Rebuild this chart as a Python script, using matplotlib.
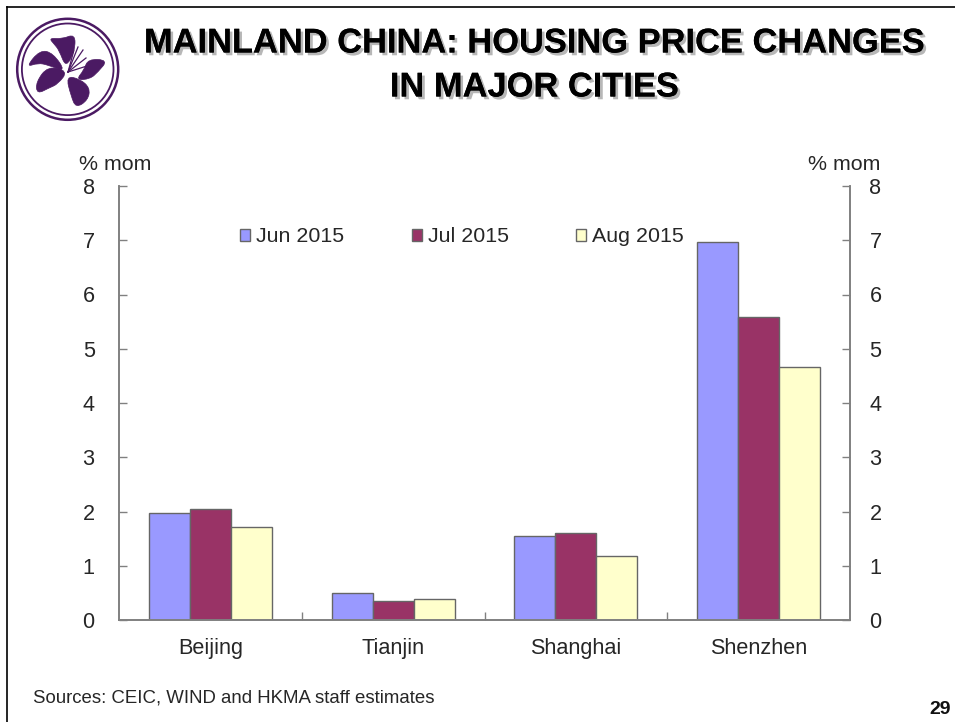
import numpy as np
import matplotlib
matplotlib.use("Agg")
import matplotlib.pyplot as plt
import matplotlib.patheffects as pe
from matplotlib.patches import Circle, PathPatch
from matplotlib.path import Path
from matplotlib.lines import Line2D

cities = ["Beijing", "Tianjin", "Shanghai", "Shenzhen"]
jun_2015 = [1.98, 0.50, 1.55, 6.97]
jul_2015 = [2.04, 0.35, 1.60, 5.58]
aug_2015 = [1.72, 0.38, 1.18, 4.66]
y_ticks = [0, 1, 2, 3, 4, 5, 6, 7, 8]

plt.rcParams["font.family"] = ["Liberation Sans", "DejaVu Sans"]

W, H = 955, 722
TXT = "#262626"
AXE = "#808080"
fig = plt.figure(figsize=(W / 100, H / 100), dpi=100)


def fx(px):
    return px / W


def fy(py):
    return 1 - py / H


def blob(pts):
    # contour lissé : courbes quadratiques passant par les milieux des points
    pts = np.array(pts, float)
    mids = (pts + np.roll(pts, -1, axis=0)) / 2
    verts = [mids[-1]]
    codes = [Path.MOVETO]
    for i in range(len(pts)):
        verts += [pts[i], mids[i]]
        codes += [Path.CURVE3, Path.CURVE3]
    return Path(verts, codes)


# cadre de la diapo
fig.add_artist(Line2D([fx(6.5), fx(6.5)], [0, fy(7)], color="black", lw=1.2))
fig.add_artist(Line2D([fx(6.5), 1], [fy(7), fy(7)], color="black", lw=1.2))

# titre avec ombre
shadow = [pe.withSimplePatchShadow(offset=(2, -2), shadow_rgbFace="#888888", alpha=0.6), pe.Normal()]
for txt, y in [("MAINLAND CHINA: HOUSING PRICE CHANGES", 44), ("IN MAJOR CITIES", 88)]:
    fig.text(fx(534.5), fy(y), txt, ha="center", va="center", fontsize=24.8, fontweight="bold",
             color="black", path_effects=shadow)

# graphique
ax = fig.add_axes([fx(119), fy(620), fx(850 - 119), fy(186) - fy(620)])
x = np.arange(len(cities))
w = 0.224
edge = "#666666"
ax.bar(x - w, jun_2015, w, color="#9999FF", edgecolor=edge, lw=1, label="Jun 2015")
ax.bar(x, jul_2015, w, color="#993366", edgecolor=edge, lw=1, label="Jul 2015")
ax.bar(x + w, aug_2015, w, color="#FFFFCC", edgecolor=edge, lw=1, label="Aug 2015")

ax.set_xlim(-0.5, 3.5)
ax.set_ylim(0, 8)
ax.set_yticks(y_ticks)
ax.set_xticks(x)
ax.set_xticklabels(cities)
ax.set_xticks([0.5, 1.5, 2.5], minor=True)
ax.spines["top"].set_visible(False)
for s in ["left", "right", "bottom"]:
    ax.spines[s].set_color(AXE)
    ax.spines[s].set_linewidth(1.2)
ax.tick_params(axis="x", which="major", length=0, labelsize=15.6, pad=13, labelcolor=TXT)
ax.tick_params(axis="x", which="minor", direction="in", length=6, color=AXE, width=1)
ax.tick_params(axis="y", direction="in", length=6, color=AXE, width=1, labelsize=15.6, pad=17.5, labelcolor=TXT)

ax2 = ax.twinx()
ax2.set_ylim(0, 8)
ax2.set_yticks(y_ticks)
ax2.spines["top"].set_visible(False)
for s in ["left", "right", "bottom"]:
    ax2.spines[s].set_color(AXE)
    ax2.spines[s].set_linewidth(1.2)
ax2.tick_params(axis="y", direction="in", length=6, color=AXE, width=1, labelsize=15.6, pad=14, labelcolor=TXT)

fig.text(fx(115), fy(164), "% mom", ha="center", va="center", fontsize=15.4, color=TXT)
fig.text(fx(844), fy(164), "% mom", ha="center", va="center", fontsize=15.4, color=TXT)

ax.legend(loc="center left", bbox_to_anchor=((240 - 119) / 731, (620 - 237) / 434), ncol=3, frameon=False,
          fontsize=15.4, handlelength=0.47, handleheight=0.45, handletextpad=0.28, columnspacing=3.15,
          borderpad=0, borderaxespad=0, labelcolor=TXT)

fig.text(fx(33), fy(698), "Sources: CEIC, WIND and HKMA staff estimates", ha="left", va="center",
         fontsize=13.4, color=TXT)
fig.text(fx(940), fy(709), "29", ha="center", va="center", fontsize=14, fontweight="bold", color="#111111")

# logo (fleur de bauhinia), en pixels de l'image
logo = fig.add_axes([0, 0, 1, 1], facecolor="none")
logo.set_xlim(0, W)
logo.set_ylim(H, 0)
logo.axis("off")
purple = "#4B1A63"
logo.add_patch(Circle((67.7, 69.3), 50.5, fill=False, ec=purple, lw=1.8))
logo.add_patch(Circle((67.7, 69.3), 45.8, fill=False, ec=purple, lw=1.3))
petals = [
    [(49, 38), (62, 39), (75, 34), (75, 50), (66, 68), (59, 50), (54, 44)],
    [(26, 67), (40, 50), (53, 53), (66, 72), (48, 65), (38, 63)],
    [(36, 82), (48, 66), (68, 71), (58, 84), (49, 88), (37, 94)],
    [(66, 76), (80, 79), (90, 88), (88, 100), (76, 108), (71, 96)],
    [(76, 80), (84, 70), (88, 59), (108, 60), (98, 72), (90, 79)],
]
for p in petals:
    logo.add_patch(PathPatch(blob(p), fc=purple, ec=purple, lw=0.5))
for end in [(74, 50), (78, 47), (83, 50), (86, 58), (87, 66)]:
    logo.add_line(Line2D([68, end[0]], [72, end[1]], color=purple, lw=0.9))

fig.savefig("out.png", dpi=100)
